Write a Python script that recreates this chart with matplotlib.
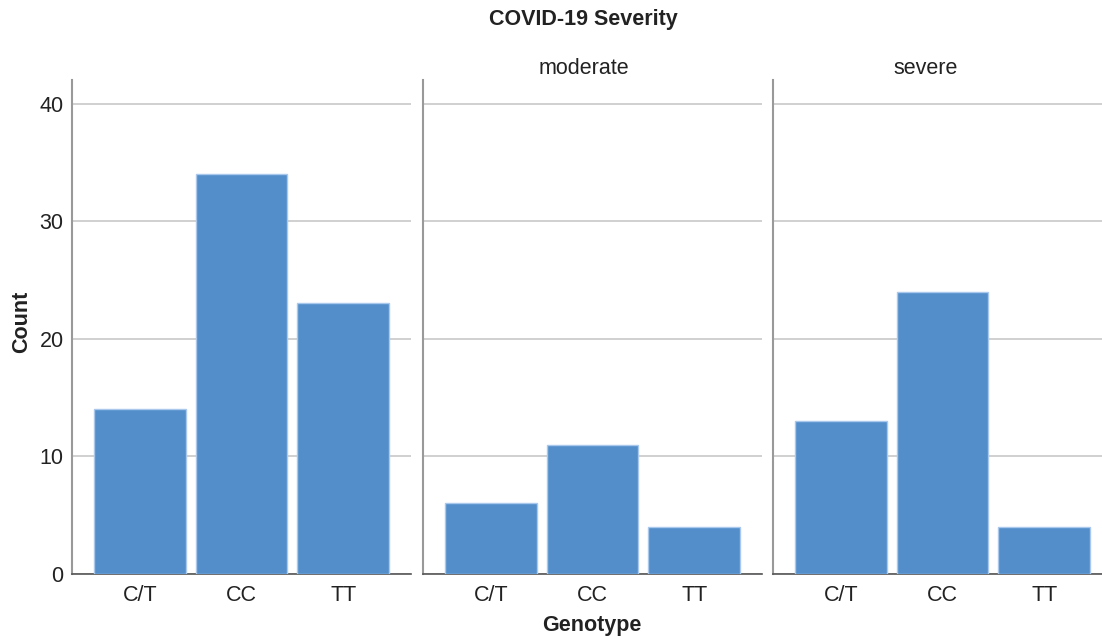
import numpy as np
import matplotlib
matplotlib.use('Agg')
import matplotlib.pyplot as plt

# Genotype counts per severity group
genotypes = ['C/T', 'CC', 'TT']
groups = ['', 'moderate', 'severe']
mild_counts = [14, 34, 23]
moderate_counts = [6, 11, 4]
severe_counts = [13, 24, 4]
yticks = [0, 10, 20, 30, 40]

plt.rcParams['font.family'] = ['Liberation Sans', 'DejaVu Sans']

fig = plt.figure(figsize=(11.02, 6.37), dpi=100, facecolor='white')
W, H = 1102, 637

bar_color = '#538ecb'
edge_color = '#a9c8ec'
grid_color = '#c8c8c8'
text_color = '#222222'
fs = 15.5

lefts = [72, 423, 773]
panel_w = 339
bottom, top = 574, 80

all_counts = [mild_counts, moderate_counts, severe_counts]
for i, (left, counts, name) in enumerate(zip(lefts, all_counts, groups)):
    ax = fig.add_axes([left / W, 1 - bottom / H, panel_w / W, (bottom - top) / H])
    x = np.arange(len(genotypes))
    ax.bar(x, counts, width=0.9, color=bar_color, edgecolor=edge_color,
           linewidth=1.0, zorder=3)
    ax.set_xlim(-0.667, 2.667)
    ax.set_ylim(0, 42)
    ax.set_yticks(yticks)
    ax.yaxis.grid(True, color=grid_color, linewidth=1.2, zorder=0)
    ax.set_xticks(x)
    ax.set_xticklabels(genotypes, fontsize=fs, color=text_color)
    ax.tick_params(axis='x', length=0, pad=8)
    ax.tick_params(axis='y', length=0, pad=6)
    if i == 0:
        ax.set_yticklabels([str(t) for t in yticks], fontsize=fs, color=text_color)
    else:
        ax.set_yticklabels([])
    for s in ['top', 'right']:
        ax.spines[s].set_visible(False)
    ax.spines['left'].set_color('#999999')
    ax.spines['left'].set_linewidth(1.5)
    ax.spines['bottom'].set_color('#555555')
    ax.spines['bottom'].set_linewidth(1.2)

fig.text(584 / W, 1 - 68 / H, groups[1], ha='center', va='center', fontsize=fs, color=text_color)
fig.text(926 / W, 1 - 68 / H, groups[2], ha='center', va='center', fontsize=fs, color=text_color)
fig.text(583 / W, 1 - 20 / H, 'COVID-19 Severity', ha='center', va='center',
         fontsize=fs, fontweight='bold', color=text_color)
fig.text(592 / W, 1 - 626 / H, 'Genotype', ha='center', va='center',
         fontsize=fs, fontweight='bold', color=text_color)
fig.text(22 / W, 1 - 322 / H, 'Count', ha='center', va='center', rotation=90,
         fontsize=fs, fontweight='bold', color=text_color)

plt.savefig('out.png', dpi=100, facecolor='white')
plt.close(fig)
